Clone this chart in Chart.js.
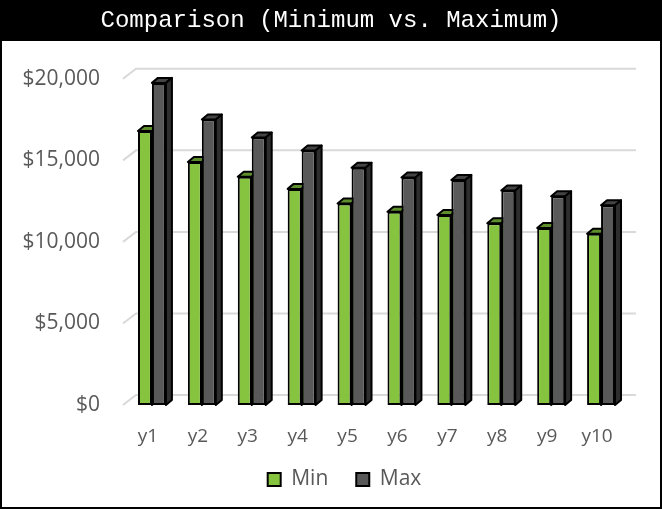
<!DOCTYPE html>
<html>
<head>
<meta charset="utf-8">
<script src="https://cdn.jsdelivr.net/npm/chart.js@4.4.1/dist/chart.umd.min.js"></script>
<style>
  html, body { margin: 0; padding: 0; background: #fff; }
  #wrap { width: 662px; height: 509px; position: relative; }
</style>
</head>
<body>
<div id="wrap"><canvas id="chart" width="662" height="509"></canvas></div>
<script>
// data
const categories = ["y1", "y2", "y3", "y4", "y5", "y6", "y7", "y8", "y9", "y10"];
const minValues = [16800, 14900, 14000, 13250, 12350, 11850, 11650, 11150, 10850, 10500];
const maxValues = [19750, 17500, 16400, 15600, 14550, 13950, 13800, 13150, 12800, 12250];
const yTicks = [0, 5000, 10000, 15000, 20000];
const seriesNames = ["Min", "Max"];

const labelGrey = "#595959";

// faces for the fake 3d look
const faceColors = [
  { top: "#5f8f2c", side: "#4c7423" },
  { top: "#444444", side: "#2e2e2e" }
];

// back wall grid + 3d bar faces
const depthPlugin = {
  id: "depth",
  afterLayout(chart) {
    // legend sits a bit right of centre and higher in the original
    chart.legend.left += 27;
    chart.legend.top -= 9;
    chart.legend.bottom -= 9;
  },
  beforeDraw(chart) {
    const ctx = chart.ctx;
    ctx.save();
    ctx.fillStyle = "#000";
    ctx.fillRect(0, 0, chart.width, 41);
    ctx.restore();
  },
  beforeDatasetsDraw(chart) {
    const ctx = chart.ctx;
    const y = chart.scales.y;
    const area = chart.chartArea;
    const gx = area.left - 4, gdx = 13, gdy = -10;
    ctx.save();
    ctx.strokeStyle = "#d9d9d9";
    ctx.lineWidth = 2;
    yTicks.forEach(function (v) {
      const py = y.getPixelForValue(v);
      ctx.beginPath();
      ctx.moveTo(gx, py);
      ctx.lineTo(gx + gdx, py + gdy);
      ctx.lineTo(area.right + 10, py + gdy);
      ctx.stroke();
    });

    const dx = 6, dy = -5;
    ctx.strokeStyle = "#000";
    ctx.lineWidth = 2;
    ctx.lineJoin = "round";
    chart.data.datasets.forEach(function (ds, i) {
      chart.getDatasetMeta(i).data.forEach(function (bar) {
        const p = bar.getProps(["x", "y", "base", "width"], true);
        const l = p.x - p.width / 2, r = p.x + p.width / 2;
        // top
        ctx.fillStyle = faceColors[i].top;
        ctx.beginPath();
        ctx.moveTo(l, p.y);
        ctx.lineTo(l + dx, p.y + dy);
        ctx.lineTo(r + dx, p.y + dy);
        ctx.lineTo(r, p.y);
        ctx.closePath();
        ctx.fill();
        ctx.stroke();
        // side
        ctx.fillStyle = faceColors[i].side;
        ctx.beginPath();
        ctx.moveTo(r, p.y);
        ctx.lineTo(r + dx, p.y + dy);
        ctx.lineTo(r + dx, p.base + dy);
        ctx.lineTo(r, p.base);
        ctx.closePath();
        ctx.fill();
        ctx.stroke();
      });
    });
    ctx.restore();
  },
  afterDraw(chart) {
    const ctx = chart.ctx;
    ctx.save();
    ctx.strokeStyle = "#000";
    ctx.lineWidth = 2;
    ctx.strokeRect(1, 1, chart.width - 2, chart.height - 2);
    ctx.restore();
  }
};

let ctx = document.querySelector("#chart");

let graph = new Chart(ctx, {
  type: "bar",
  data: {
    labels: categories,
    datasets: [
      {
        label: seriesNames[0],
        data: minValues,
        backgroundColor: "#86c440",
        borderColor: "#000",
        borderWidth: 2,
        borderSkipped: false
      },
      {
        label: seriesNames[1],
        data: maxValues,
        backgroundColor: "#595959",
        borderColor: "#000",
        borderWidth: 2,
        borderSkipped: false
      }
    ]
  },
  options: {
    responsive: false,
    animation: false,
    categoryPercentage: 0.56,
    barPercentage: 1.0,
    layout: { padding: { left: 0, right: 0, top: 0, bottom: 0 } },
    plugins: {
      title: {
        display: true,
        text: "Comparison (Minimum vs. Maximum)",
        color: "#fff",
        font: { family: "'Liberation Mono', 'Courier New', monospace", size: 24, weight: "normal" },
        padding: { top: 6, bottom: 44 }
      },
      legend: {
        position: "bottom",
        labels: {
          boxWidth: 13,
          boxHeight: 13,
          padding: 28,
          color: labelGrey,
          font: { family: "'Open Sans'", size: 21 }
        }
      },
      tooltip: { enabled: false }
    },
    scales: {
      x: {
        grid: { display: false, drawTicks: false },
        border: { display: false },
        ticks: {
          color: labelGrey,
          padding: 20,
          labelOffset: -4,
          font: { family: "'Open Sans'", size: 19 }
        },
        afterFit: function (scale) { scale.height = 45; }
      },
      y: {
        min: 0,
        max: 20000,
        grid: { display: false, drawTicks: false },
        border: { display: false },
        afterBuildTicks: function (scale) {
          scale.ticks = yTicks.map(function (v) { return { value: v }; });
        },
        ticks: {
          color: labelGrey,
          padding: 27,
          font: { family: "'Open Sans'", size: 21 },
          callback: function (value) {
            return "$" + Number(value).toLocaleString("en-US");
          }
        },
        afterFit: function (scale) { scale.width = 127; }
      },
      // empty axis, only keeps room on the right
      yRight: {
        type: "linear",
        position: "right",
        grid: { display: false, drawTicks: false },
        border: { display: false },
        ticks: { display: false },
        afterFit: function (scale) { scale.width = 36; }
      }
    }
  },
  plugins: [depthPlugin]
});
</script>
</body>
</html>
